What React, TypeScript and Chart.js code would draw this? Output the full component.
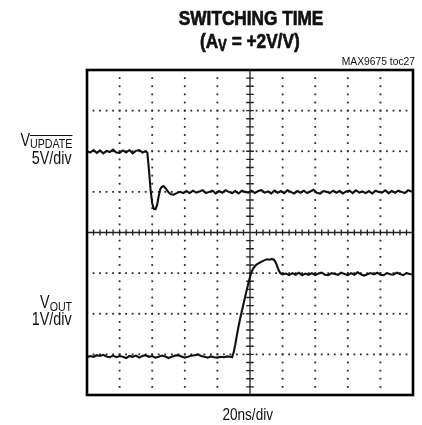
import React, { useEffect, useRef } from "react";
import { Chart, registerables } from "chart.js";

Chart.register(...registerables);

// Horizontal axis: divisions (20ns/div), 0..10
const updateTime = [
  0, 0.1, 0.2, 0.3, 0.4, 0.5, 0.6, 0.7, 0.8, 0.9, 1.0, 1.1, 1.2, 1.3, 1.4, 1.5, 1.6, 1.7, 1.8,
  1.85, 1.9, 1.95, 2.0, 2.05, 2.1, 2.15, 2.2, 2.25, 2.3, 2.35,
  2.42, 2.5, 2.58, 2.66, 2.75, 2.85, 2.95,
  3.05, 3.15, 3.25, 3.35, 3.45, 3.55, 3.65, 3.75, 3.85, 3.95,
  4.05, 4.15, 4.25, 4.35, 4.45, 4.55, 4.65, 4.75, 4.85, 4.95,
  5.05, 5.15, 5.25, 5.35, 5.45, 5.55, 5.65, 5.75, 5.85, 5.95,
  6.05, 6.15, 6.25, 6.35, 6.45, 6.55, 6.65, 6.75, 6.85, 6.95,
  7.05, 7.15, 7.25, 7.35, 7.45, 7.55, 7.65, 7.75, 7.85, 7.95,
  8.05, 8.15, 8.25, 8.35, 8.45, 8.55, 8.65, 8.75, 8.85, 8.95,
  9.05, 9.15, 9.25, 9.35, 9.45, 9.55, 9.65, 9.75, 9.85, 9.95,
  10.0,
];

// VUPDATE trace, in screen divisions (0..8)
const updateLevel = [
  6.0, 5.97, 6.03, 5.96, 6.02, 5.95, 6.01, 5.98, 6.04, 5.97, 5.96, 6.02, 5.97, 6.03, 5.95, 6.01, 6.03, 5.97, 6.0,
  5.97, 5.55, 5.05, 4.72, 4.58, 4.57, 4.68, 4.9, 5.07, 5.13, 5.14,
  5.08, 4.99, 4.94, 4.93, 4.97, 5.0, 4.97,
  5.02, 4.97, 5.03, 4.98, 5.01, 5.04, 4.97, 5.0, 5.03, 4.96,
  5.02, 4.98, 5.04, 5.0, 4.97, 5.02, 4.96, 5.03, 5.0, 4.98,
  5.03, 4.97, 5.02, 5.04, 4.98, 5.01, 4.96, 5.03, 4.98, 5.02,
  4.97, 5.04, 5.0, 4.96, 5.02, 4.98, 5.03, 4.97, 5.01, 5.05,
  4.98, 4.96, 5.02, 5.0, 4.97, 5.03, 4.98, 5.02, 4.96, 5.01,
  5.03, 4.97, 5.04, 4.98, 5.01, 4.97, 5.02, 4.96, 5.03, 5.0,
  4.98, 5.04, 4.97, 5.02, 4.98, 5.03, 5.0, 4.97, 5.04, 5.01,
  5.0,
];

const outTime = [
  0, 0.1, 0.2, 0.3, 0.4, 0.5, 0.6, 0.7, 0.8, 0.9,
  1.0, 1.1, 1.2, 1.3, 1.4, 1.5, 1.6, 1.7, 1.8, 1.9,
  2.0, 2.1, 2.2, 2.3, 2.4, 2.5, 2.6, 2.7, 2.8, 2.9,
  3.0, 3.1, 3.2, 3.3, 3.4, 3.5, 3.6, 3.7, 3.8, 3.9,
  4.0, 4.1, 4.2, 4.3, 4.4,
  4.45, 4.5, 4.55, 4.6, 4.65, 4.72, 4.8, 4.88, 4.96, 5.03, 5.1, 5.18,
  5.28, 5.37, 5.45, 5.52, 5.6, 5.67, 5.73, 5.78, 5.83, 5.88, 5.93, 6.0,
  6.1, 6.2, 6.3, 6.4, 6.5, 6.6, 6.7, 6.8, 6.9, 7.0,
  7.1, 7.2, 7.3, 7.4, 7.5, 7.6, 7.7, 7.8, 7.9, 8.0,
  8.1, 8.2, 8.3, 8.4, 8.5, 8.6, 8.7, 8.8, 8.9, 9.0,
  9.1, 9.2, 9.3, 9.4, 9.5, 9.6, 9.7, 9.8, 9.9, 10.0,
];

// VOUT trace, in screen divisions (0..8)
const outLevel = [
  0.93, 0.96, 0.94, 0.98, 0.96, 0.99, 0.95, 0.93, 0.97, 0.93,
  0.96, 0.94, 0.91, 0.96, 0.94, 0.97, 0.92, 0.96, 0.98, 0.94,
  0.96, 0.92, 0.94, 0.97, 0.95, 0.91, 0.94, 0.97, 0.98, 0.95,
  0.92, 0.94, 0.97, 0.98, 1.0, 0.96, 0.94, 0.92, 0.95, 0.93,
  0.92, 0.94, 0.93, 0.95, 0.94,
  0.93, 1.05, 1.25, 1.48, 1.7, 1.96, 2.24, 2.52, 2.78, 3.0, 3.12, 3.2,
  3.25, 3.29, 3.32, 3.34, 3.33, 3.35, 3.33, 3.28, 3.18, 3.07, 3.0, 2.97,
  2.99, 2.95, 3.0, 2.96, 3.01, 2.95, 2.99, 2.96, 3.0, 2.95,
  2.99, 3.01, 2.96, 2.95, 3.0, 2.98, 2.96, 3.01, 2.98, 2.95,
  3.0, 2.96, 3.02, 2.97, 2.94, 2.97, 3.0, 2.97, 3.01, 2.96,
  2.95, 3.0, 2.97, 2.96, 3.01, 2.98, 2.95, 3.0, 2.98, 2.97,
];

const X_DIVS = 10;
const Y_DIVS = 8;
const MINOR = 5;

const graticule = {
  id: "graticule",
  beforeDatasetsDraw(chart: any) {
    const { ctx, chartArea, scales } = chart;
    const xs = scales.x;
    const ys = scales.y;
    const { left, right, top, bottom } = chartArea;
    ctx.save();
    ctx.fillStyle = "#2a2a2a";
    const cx = X_DIVS / 2;
    const cy = Y_DIVS / 2;
    for (let i = 1; i < X_DIVS; i++) {
      if (i === cx) continue;
      const px = xs.getPixelForValue(i);
      for (let j = 0; j <= Y_DIVS * MINOR; j++) {
        const py = ys.getPixelForValue(j / MINOR);
        ctx.fillRect(px - 0.9, py - 0.9, 1.8, 1.8);
      }
    }
    for (let i = 1; i < Y_DIVS; i++) {
      if (i === cy) continue;
      const py = ys.getPixelForValue(i);
      for (let j = 0; j <= X_DIVS * MINOR; j++) {
        const px = xs.getPixelForValue(j / MINOR);
        ctx.fillRect(px - 0.9, py - 0.9, 1.8, 1.8);
      }
    }
    const pcx = xs.getPixelForValue(cx);
    const pcy = ys.getPixelForValue(cy);
    ctx.strokeStyle = "#222";
    ctx.lineWidth = 1.3;
    ctx.beginPath();
    ctx.moveTo(left, pcy);
    ctx.lineTo(right, pcy);
    ctx.moveTo(pcx, top);
    ctx.lineTo(pcx, bottom);
    for (let j = 0; j <= X_DIVS * MINOR; j++) {
      const px = xs.getPixelForValue(j / MINOR);
      ctx.moveTo(px, pcy - 3);
      ctx.lineTo(px, pcy + 3);
    }
    for (let j = 0; j <= Y_DIVS * MINOR; j++) {
      const py = ys.getPixelForValue(j / MINOR);
      ctx.moveTo(pcx - 3.8, py);
      ctx.lineTo(pcx + 3.8, py);
    }
    ctx.stroke();
    ctx.restore();
  },
  afterDatasetsDraw(chart: any) {
    const { ctx, chartArea } = chart;
    const { left, right, top, bottom } = chartArea;
    ctx.save();
    ctx.strokeStyle = "#000";
    ctx.lineWidth = 2.6;
    ctx.strokeRect(left, top, right - left, bottom - top);
    ctx.restore();
  },
};

const SANS = '"Liberation Sans", Arial, sans-serif';

function Narrow({ children, origin }: { children: React.ReactNode; origin: string }) {
  return (
    <span style={{ display: "inline-block", transform: "scaleX(0.82)", transformOrigin: origin }}>{children}</span>
  );
}

export default function App() {
  const canvasRef = useRef<HTMLCanvasElement | null>(null);

  useEffect(() => {
    if (!canvasRef.current) return;
    const chart = new Chart(canvasRef.current, {
      type: "line",
      data: {
        datasets: [
          {
            label: "VUPDATE",
            data: updateTime.map((t, i) => ({ x: t, y: updateLevel[i] })),
            borderColor: "#111",
            borderWidth: 2.1,
            pointRadius: 0,
            tension: 0,
          },
          {
            label: "VOUT",
            data: outTime.map((t, i) => ({ x: t, y: outLevel[i] })),
            borderColor: "#111",
            borderWidth: 2.1,
            pointRadius: 0,
            tension: 0,
          },
        ],
      },
      options: {
        responsive: false,
        animation: false,
        layout: { padding: { left: 87, right: 9, top: 70, bottom: 30 } },
        scales: {
          x: { type: "linear", min: 0, max: X_DIVS, display: false },
          y: { type: "linear", min: 0, max: Y_DIVS, display: false },
        },
        plugins: {
          legend: { display: false },
          tooltip: { enabled: false },
          title: { display: false },
        },
      },
      plugins: [graticule],
    });
    return () => chart.destroy();
  }, []);

  const abs = (o: React.CSSProperties): React.CSSProperties => ({
    position: "absolute",
    whiteSpace: "nowrap",
    color: "#111",
    margin: 0,
    fontFamily: SANS,
    ...o,
  });

  const heavy: React.CSSProperties = { WebkitTextStroke: "0.7px #111" } as React.CSSProperties;

  return (
    <div style={{ position: "absolute", left: 0, top: 0, width: 422, height: 425, overflow: "hidden", background: "#fff" }}>
      <canvas ref={canvasRef} width={422} height={425} style={{ position: "absolute", left: 0, top: 0, width: 422, height: 425 }} />
      <div style={abs({ left: 131, width: 240, top: 7.3, textAlign: "center", fontWeight: 700, fontSize: 21, lineHeight: "21px", ...heavy })}>
        <Narrow origin="center">SWITCHING TIME</Narrow>
      </div>
      <div style={abs({ left: 130, width: 240, top: 30.2, textAlign: "center", fontWeight: 700, fontSize: 21, lineHeight: "21px", ...heavy })}>
        <Narrow origin="center">
          (A<span style={{ fontSize: 16, position: "relative", top: 3 }}>V</span> = +2V/V)
        </Narrow>
      </div>
      <div style={abs({ left: 300, width: 115, top: 56.8, textAlign: "right", fontSize: 10.3, lineHeight: "10.3px" })}>
        MAX9675 toc27
      </div>
      <div style={abs({ left: 0, width: 72, top: 131.7, textAlign: "right", fontSize: 17.5, lineHeight: "17.5px" })}>
        <Narrow origin="right">
          V<span style={{ fontSize: 13, position: "relative", top: 2.5, textDecoration: "overline" }}>UPDATE</span>
        </Narrow>
      </div>
      <div style={abs({ left: 0, width: 72, top: 150.2, textAlign: "right", fontSize: 17.5, lineHeight: "17.5px" })}>
        <Narrow origin="right">5V/div</Narrow>
      </div>
      <div style={abs({ left: 0, width: 72, top: 294.2, textAlign: "right", fontSize: 17.5, lineHeight: "17.5px" })}>
        <Narrow origin="right">
          V<span style={{ fontSize: 13, position: "relative", top: 2.5 }}>OUT</span>
        </Narrow>
      </div>
      <div style={abs({ left: 0, width: 72, top: 311.2, textAlign: "right", fontSize: 17.5, lineHeight: "17.5px" })}>
        <Narrow origin="right">1V/div</Narrow>
      </div>
      <div style={abs({ left: 197.5, width: 100, top: 406, textAlign: "center", fontSize: 16.5, lineHeight: "16.5px" })}>
        <Narrow origin="center">20ns/div</Narrow>
      </div>
    </div>
  );
}
